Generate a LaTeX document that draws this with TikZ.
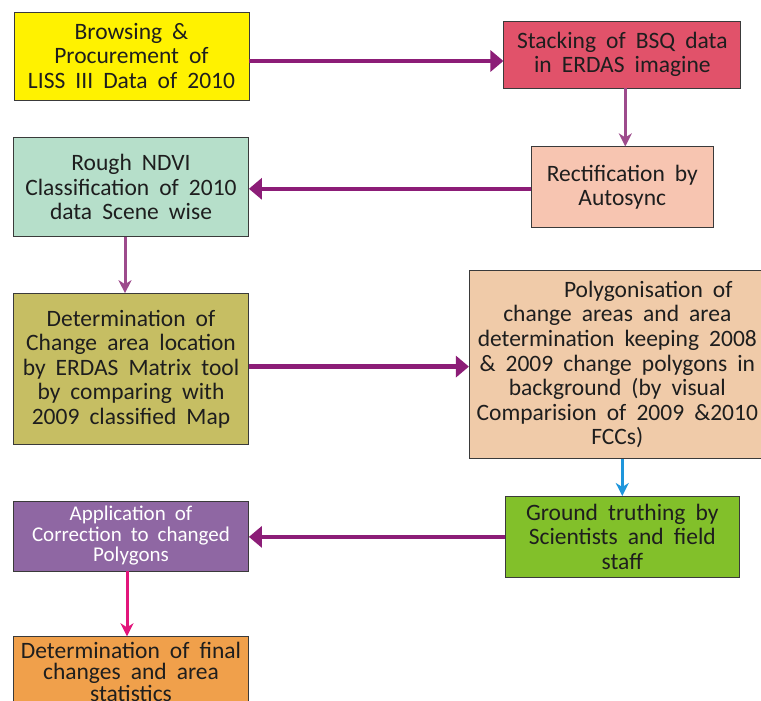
\documentclass[tikz,border=0pt]{standalone}
\usepackage{fontspec}
\setmainfont{Carlito}[WordSpace=1.9]
\usetikzlibrary{arrows, arrows.meta, positioning}
\definecolor{boxline}{HTML}{3A3A3A}
\definecolor{textgray}{HTML}{1E1E1E}
\definecolor{cyellow}{HTML}{FFF200}
\definecolor{cred}{HTML}{E1526A}
\definecolor{cpeach}{HTML}{F7C5B1}
\definecolor{cmint}{HTML}{B6DFCA}
\definecolor{colive}{HTML}{C6BE63}
\definecolor{clightorange}{HTML}{F0CBA9}
\definecolor{cgreen}{HTML}{82C02A}
\definecolor{cviolet}{HTML}{8F67A3}
\definecolor{corange}{HTML}{F0A04B}
\definecolor{arrowpurple}{HTML}{8C1D77}
\definecolor{thinpurple}{HTML}{9D4B8C}
\definecolor{arrowblue}{HTML}{1E96DC}
\definecolor{arrowpink}{HTML}{E2157B}
\tikzset{
    procbox/.style={draw, rectangle, inner sep=2pt, align=center, draw=boxline, line width=0.8pt, text=textgray, font=\fontsize{23.5}{24.6}\selectfont},
    whitebox/.style={procbox, text=white, font=\fontsize{21}{20.5}\selectfont},
    bigarrow/.style={-{Triangle[length=13pt,width=21pt]}, line width=4.5pt, draw=arrowpurple},
    thinarrow/.style={-{Stealth[length=13pt,width=13pt,inset=4pt]}, line width=3pt, draw=thinpurple}
}
\begin{document}
\begin{tikzpicture}[node distance=0.6cm and 1.2cm]
        \useasboundingbox (0pt,0pt) rectangle (761pt,-701pt);

        % Colonna sinistra e destra, dall'alto
        \node (browse) [procbox, fill=cyellow, minimum width=235pt, minimum height=88pt] at (131.5pt,-56pt) {Browsing \&\\Procurement of\\LISS III Data of 2010};
        \node (stack) [procbox, fill=cred, minimum width=237pt, minimum height=67pt, right=254pt of browse, yshift=1.5pt] {Stacking of BSQ data\\in ERDAS imagine};
        \node (rectify) [procbox, fill=cpeach, minimum width=182pt, minimum height=81pt, below=58pt of stack] {Rectification by\\Autosync};
        \node (ndvi) [procbox, fill=cmint, minimum width=235pt, minimum height=99pt, left=282pt of rectify] {Rough NDVI\\Classification of 2010\\data Scene wise};
        \node (locate) [procbox, fill=colive, minimum width=235pt, minimum height=151pt, below=56pt of ndvi] {Determination of\\Change area location\\by ERDAS Matrix tool\\by comparing with\\2009 classified Map};
        \node (polygon) [procbox, fill=clightorange, minimum width=296pt, minimum height=188pt, right=220pt of locate, yshift=4.5pt] {\hspace*{62pt}Polygonisation of\\change areas and area\\determination keeping 2008\\\& 2009 change polygons in\\background (by visual\\Comparision of 2009 \&2010\\FCCs)};
        \node (ground) [procbox, fill=cgreen, minimum width=234pt, minimum height=81pt, below=37pt of polygon, xshift=5pt] {Ground truthing by\\Scientists and field\\staff};
        \node (apply) [whitebox, fill=cviolet, minimum width=235pt, minimum height=70pt, left=256pt of ground, yshift=1pt] {Application of\\Correction to changed\\Polygons};
        \node (final) [procbox, fill=corange, minimum width=235pt, minimum height=70pt, below=65pt of apply, font=\fontsize{23.5}{21.5}\selectfont] {Determination of final\\changes and area\\statistics};

        % Frecce
        \draw [bigarrow] ([yshift=-5pt]browse.east) -- ([yshift=-5pt]browse.east -| stack.west);
        \draw [thinarrow] ([xshift=3pt]stack.south) -- ([xshift=3pt]rectify.north);
        \draw [bigarrow] ([yshift=-1.5pt]rectify.west) -- ([yshift=-1.5pt]rectify.west -| ndvi.east);
        \draw [thinarrow] ([xshift=-6pt]ndvi.south) -- ([xshift=-6pt]locate.north);
        \draw [bigarrow] ([yshift=2.5pt]locate.east) -- ([yshift=2.5pt]locate.east -| polygon.west);
        \draw [thinarrow, draw=arrowblue] (polygon.south -| ground.north) -- (ground.north);
        \draw [bigarrow] (ground.west) -- (ground.west -| apply.east);
        \draw [thinarrow, draw=arrowpink] ([xshift=-4pt]apply.south) -- ([xshift=-4pt]final.north);

    \end{tikzpicture}
\end{document}
